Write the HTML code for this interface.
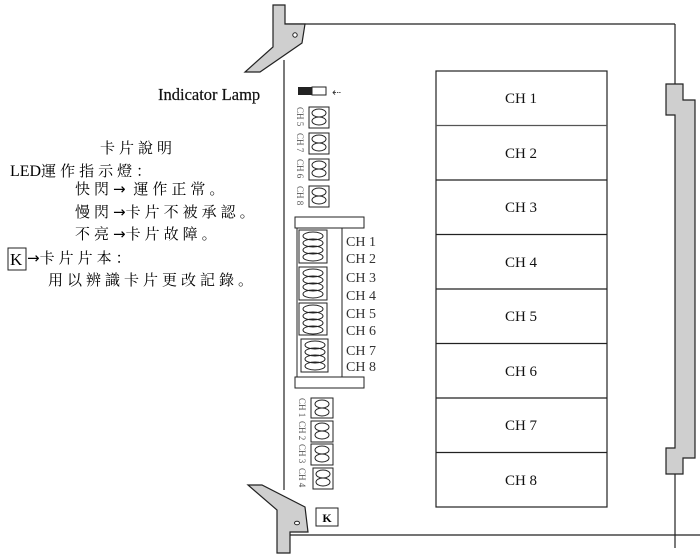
<!DOCTYPE html>
<html><head><meta charset="utf-8"><style>
html,body{margin:0;padding:0;background:#fff;}
svg{display:block;}
.cn{font-family:"Liberation Serif","Noto Serif CJK SC","Noto Sans CJK TC",serif;font-size:15px;fill:#000;letter-spacing:4px;}
.ar{font-family:"DejaVu Sans",sans-serif;font-size:15px;letter-spacing:0;}
.ch{font-family:"Liberation Serif",serif;font-size:15px;fill:#111;}
.sm{font-family:"Liberation Serif",serif;font-size:14px;fill:#333;}
.rot{font-family:"Liberation Serif",serif;font-size:9px;fill:#555;}
</style></head><body>
<svg width="700" height="560" viewBox="0 0 700 560" xmlns="http://www.w3.org/2000/svg">
<g stroke="#222" stroke-width="1.2" fill="none">
  <line x1="285" y1="24" x2="675" y2="24"/>
  <line x1="675" y1="24" x2="675" y2="84"/>
  <line x1="675" y1="472" x2="675" y2="548"/>
  <line x1="284" y1="60" x2="284" y2="490"/>
  <line x1="290" y1="535" x2="700" y2="535"/>
</g>
<path d="M666,84 H683 V100 H695 V458 H683 V474 H666 V448 H675 V115 H666 Z" fill="#cfcfcf" stroke="#222" stroke-width="1.2"/>
<path d="M273,5 H285 V24 H305 L302,43 L260,72 H245 L273,47 Z" fill="#cfcfcf" stroke="#222" stroke-width="1.2"/>
<circle cx="295" cy="35" r="2.2" fill="#fff" stroke="#222"/>
<path d="M248,485 H262 L305,507 L308,532 H290 V553 H277 V510 Z" fill="#cfcfcf" stroke="#222" stroke-width="1.2"/>
<ellipse cx="297" cy="523" rx="2.5" ry="1.8" fill="#fff" stroke="#222"/>
<rect x="316" y="508" width="22" height="18" fill="#fff" stroke="#222"/>
<text x="327" y="522" text-anchor="middle" font-family="Liberation Serif,serif" font-size="12" font-weight="bold">K</text>

<g stroke="#222" stroke-width="1.2" fill="none">
<rect x="436" y="71" width="171" height="436"/>
<line x1="436" y1="125.5" x2="607" y2="125.5" stroke="#555"/>
<line x1="436" y1="180" x2="607" y2="180"/>
<line x1="436" y1="234.5" x2="607" y2="234.5"/>
<line x1="436" y1="289" x2="607" y2="289"/>
<line x1="436" y1="343.5" x2="607" y2="343.5"/>
<line x1="436" y1="398" x2="607" y2="398"/>
<line x1="436" y1="452.5" x2="607" y2="452.5"/>
</g>
<g class="ch" text-anchor="middle">
<text x="521" y="103">CH 1</text><text x="521" y="158">CH 2</text>
<text x="521" y="212">CH 3</text><text x="521" y="267">CH 4</text>
<text x="521" y="321">CH 5</text><text x="521" y="376">CH 6</text>
<text x="521" y="430">CH 7</text><text x="521" y="485">CH 8</text>
</g>

<text x="158" y="100" font-family="Liberation Serif,serif" font-size="16.5" fill="#111" stroke="#111" stroke-width="0.2">Indicator Lamp</text>
<rect x="298" y="87" width="14" height="8" fill="#222"/>
<rect x="312" y="87" width="14" height="8" fill="#fff" stroke="#222"/>
<text x="332" y="96" font-family="DejaVu Sans,sans-serif" font-size="11" fill="#333">⇠</text>

<g stroke="#222" fill="none">
<rect x="309" y="107" width="20" height="21"/><ellipse cx="319" cy="113" rx="7" ry="4"/><ellipse cx="319" cy="121" rx="7" ry="4"/>
<rect x="309" y="133" width="20" height="21"/><ellipse cx="319" cy="139" rx="7" ry="4"/><ellipse cx="319" cy="147" rx="7" ry="4"/>
<rect x="309" y="159" width="20" height="21"/><ellipse cx="319" cy="165" rx="7" ry="4"/><ellipse cx="319" cy="173" rx="7" ry="4"/>
<rect x="309" y="186" width="20" height="21"/><ellipse cx="319" cy="192" rx="7" ry="4"/><ellipse cx="319" cy="200" rx="7" ry="4"/>
</g>
<g class="rot">
<text transform="translate(297,107) rotate(90)">CH 5</text>
<text transform="translate(297,133) rotate(90)">CH 7</text>
<text transform="translate(297,159) rotate(90)">CH 6</text>
<text transform="translate(297,186) rotate(90)">CH 8</text>
</g>

<g stroke="#222" fill="none">
<rect x="295" y="217" width="69" height="11"/>
<rect x="297" y="228" width="45" height="149"/>
<rect x="295" y="377" width="69" height="11"/>
<rect x="299" y="230" width="28" height="33"/>
<rect x="299" y="267" width="28" height="33"/>
<rect x="299" y="303" width="28" height="32"/>
<rect x="301" y="339" width="27" height="33"/>
<ellipse cx="313" cy="236" rx="10" ry="4"/><ellipse cx="313" cy="243" rx="10" ry="4"/><ellipse cx="313" cy="250" rx="10" ry="4"/><ellipse cx="313" cy="257" rx="10" ry="4"/>
<ellipse cx="313" cy="273" rx="10" ry="4"/><ellipse cx="313" cy="280" rx="10" ry="4"/><ellipse cx="313" cy="287" rx="10" ry="4"/><ellipse cx="313" cy="294" rx="10" ry="4"/>
<ellipse cx="313" cy="309" rx="10" ry="4"/><ellipse cx="313" cy="316" rx="10" ry="4"/><ellipse cx="313" cy="323" rx="10" ry="4"/><ellipse cx="313" cy="330" rx="10" ry="4"/>
<ellipse cx="315" cy="345" rx="10" ry="4"/><ellipse cx="315" cy="352" rx="10" ry="4"/><ellipse cx="315" cy="359" rx="10" ry="4"/><ellipse cx="315" cy="366" rx="10" ry="4"/>
</g>
<g class="sm">
<text x="346" y="246">CH 1</text><text x="346" y="263">CH 2</text>
<text x="346" y="282">CH 3</text><text x="346" y="300">CH 4</text>
<text x="346" y="318">CH 5</text><text x="346" y="335">CH 6</text>
<text x="346" y="355">CH 7</text><text x="346" y="371">CH 8</text>
</g>

<g stroke="#222" fill="none">
<rect x="311" y="398" width="22" height="20"/><ellipse cx="322" cy="404" rx="7" ry="4"/><ellipse cx="322" cy="412" rx="7" ry="4"/>
<rect x="311" y="421" width="22" height="21"/><ellipse cx="322" cy="427" rx="7" ry="4"/><ellipse cx="322" cy="435" rx="7" ry="4"/>
<rect x="311" y="444" width="22" height="21"/><ellipse cx="322" cy="450" rx="7" ry="4"/><ellipse cx="322" cy="458" rx="7" ry="4"/>
<rect x="313" y="468" width="20" height="21"/><ellipse cx="323" cy="474" rx="7" ry="4"/><ellipse cx="323" cy="482" rx="7" ry="4"/>
</g>
<g class="rot">
<text transform="translate(299,398) rotate(90)">CH 1</text>
<text transform="translate(299,421) rotate(90)">CH 2</text>
<text transform="translate(299,444) rotate(90)">CH 3</text>
<text transform="translate(299,468) rotate(90)">CH 4</text>
</g>

<text class="cn" x="100" y="153">卡片說明</text>
<text class="cn" x="10" y="176"><tspan style="letter-spacing:0;font-size:16px">LED</tspan>運作指示燈：</text>
<text class="cn" x="75" y="194">快閃<tspan class="ar">→</tspan> 運作正常。</text>
<text class="cn" x="75" y="217">慢閃<tspan class="ar">→</tspan>卡片不被承認。</text>
<text class="cn" x="75" y="239">不亮<tspan class="ar">→</tspan>卡片故障。</text>
<rect x="8" y="248" width="18" height="22" fill="none" stroke="#222"/>
<text x="10" y="265" font-family="Liberation Serif,serif" font-size="17">K</text>
<text class="cn" x="27" y="263"><tspan class="ar">→</tspan>卡片片本：</text>
<text class="cn" x="48" y="285">用以辨識卡片更改記錄。</text>
</svg>
</body></html>
